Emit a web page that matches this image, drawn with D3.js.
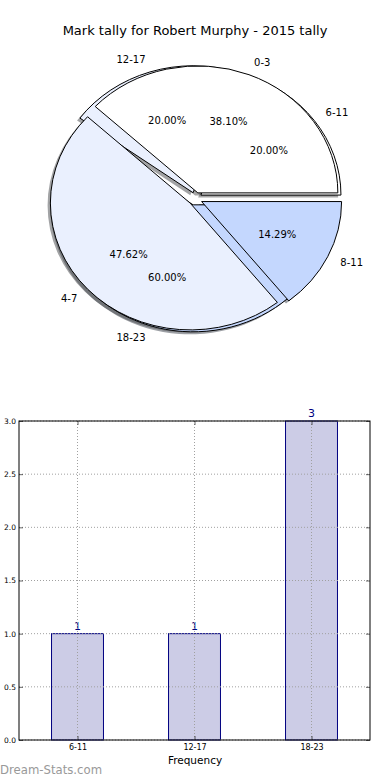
<!DOCTYPE html>
<html>
<head>
<meta charset="utf-8">
<script src="https://cdn.jsdelivr.net/npm/d3@7"></script>
<style>
body { margin: 0; background: #fff; }
svg { display: block; }
text { font-family: "DejaVu Sans", sans-serif; }
</style>
</head>
<body>
<div id="chart"></div>
<script>
var width = 390; // ancho
var height = 780; // alto

// primer pastel (tramos de marcas)
var markGroups = ["0-3", "4-7", "8-11"];
var markCounts = [8, 10, 3];

// segundo pastel y barras (franjas horarias)
var hourGroups = ["6-11", "12-17", "18-23"];
var hourCounts = [1, 1, 3];

var yTicks = [0, 0.5, 1, 1.5, 2, 2.5, 3];
var pieColors = ["#ffffff", "#eaf0fe", "#c4d7fe"];

var svg = d3.select("#chart")
    .append("svg")
    .attr("width", width)
    .attr("height", height);

svg.append("text")
    .attr("x", 195)
    .attr("y", 30)
    .attr("text-anchor", "middle")
    .attr("dominant-baseline", "central")
    .attr("font-size", 13)
    .text("Mark tally for Robert Murphy - 2015 tally");

// ---- pasteles (elipse, como matplotlib sin aspect equal)
var cx = 195.3, cy = 198.8, rx = 140, ry = 127;

var angleGen = d3.pie()
    .sort(null)
    .startAngle(Math.PI / 2)
    .endAngle(Math.PI / 2 - 2 * Math.PI);

var arcGen = d3.arc()
    .innerRadius(0)
    .outerRadius(1);

function prep(cats, vals, explode) {
    var total = d3.sum(vals);
    return angleGen(vals).map(function (d, i) {
        var mid = (d.startAngle + d.endAngle) / 2;
        var ux = Math.sin(mid), uy = -Math.cos(mid);
        return {
            arc: d, name: cats[i], pct: d.value / total * 100, color: pieColors[i],
            ux: ux, uy: uy,
            ox: cx + explode * ux * rx,
            oy: cy + explode * uy * ry
        };
    });
}

var pie2 = prep(hourGroups, hourCounts, 0.05);
var pie1 = prep(markGroups, markCounts, 0.05);
var wedges = pie2.concat(pie1);

function shade(c) {
    var k = d3.rgb(c);
    return d3.rgb(k.r * 0.3, k.g * 0.3, k.b * 0.3).toString();
}

svg.append("g").selectAll("path")
    .data(wedges)
    .enter()
    .append("path")
    .attr("transform", function (d) {
        return "translate(" + (d.ox - 0.02 * rx) + "," + (d.oy + 0.02 * ry) + ") scale(" + rx + "," + ry + ")";
    })
    .attr("d", function (d) { return arcGen(d.arc); })
    .attr("fill", function (d) { return shade(d.color); })
    .attr("fill-opacity", 0.5);

svg.append("g").selectAll("path")
    .data(wedges)
    .enter()
    .append("path")
    .attr("transform", function (d) {
        return "translate(" + d.ox + "," + d.oy + ") scale(" + rx + "," + ry + ")";
    })
    .attr("d", function (d) { return arcGen(d.arc); })
    .attr("fill", function (d) { return d.color; })
    .attr("stroke", "#000")
    .attr("stroke-width", 1)
    .attr("vector-effect", "non-scaling-stroke");

var labels = svg.append("g").attr("font-size", 10);

labels.selectAll(".lbl")
    .data(wedges)
    .enter()
    .append("text")
    .attr("class", "lbl")
    .attr("x", function (d) { return d.ox + 1.1 * d.ux * rx; })
    .attr("y", function (d) { return d.oy + 1.1 * d.uy * ry; })
    .attr("text-anchor", function (d) { return d.ux > 0 ? "start" : "end"; })
    .attr("dominant-baseline", "central")
    .text(function (d) { return d.name; });

labels.selectAll(".pct")
    .data(wedges)
    .enter()
    .append("text")
    .attr("class", "pct")
    .attr("x", function (d) { return d.ox + 0.6 * d.ux * rx; })
    .attr("y", function (d) { return d.oy + 0.6 * d.uy * ry; })
    .attr("text-anchor", "middle")
    .attr("dominant-baseline", "central")
    .text(function (d) { return d.pct.toFixed(2) + "%"; });

// ---- barras
var plotL = 19, plotR = 370, plotT = 421, plotB = 740;

var x = d3.scaleBand()
    .domain(hourGroups)
    .range([plotL, plotR])
    .paddingInner(0.556)
    .paddingOuter(0.278);

var y = d3.scaleLinear()
    .domain([0, 3])
    .range([plotB, plotT]);

var bars = svg.append("g");

bars.selectAll("rect")
    .data(hourCounts)
    .enter()
    .append("rect")
    .attr("x", function (d, i) { return x(hourGroups[i]); })
    .attr("y", function (d) { return y(d); })
    .attr("width", x.bandwidth())
    .attr("height", function (d) { return plotB - y(d); })
    .attr("fill", "#cccce6")
    .attr("stroke", "#000080")
    .attr("stroke-width", 1);

// rejilla punteada por encima de las barras
var grid = svg.append("g")
    .attr("stroke", "#a0a0a0")
    .attr("stroke-width", 1)
    .attr("stroke-dasharray", "1,2");

grid.selectAll(".gy")
    .data(yTicks)
    .enter()
    .append("line")
    .attr("x1", plotL).attr("x2", plotR)
    .attr("y1", function (d) { return y(d); })
    .attr("y2", function (d) { return y(d); });

grid.selectAll(".gx")
    .data(hourGroups)
    .enter()
    .append("line")
    .attr("y1", plotT).attr("y2", plotB)
    .attr("x1", function (d) { return x(d) + x.bandwidth() / 2; })
    .attr("x2", function (d) { return x(d) + x.bandwidth() / 2; });

var xMid = d3.scalePoint()
    .domain(hourGroups)
    .range([x(hourGroups[0]) + x.bandwidth() / 2, x(hourGroups[2]) + x.bandwidth() / 2]);

var axL = svg.append("g")
    .attr("transform", "translate(" + plotL + ",0)")
    .call(d3.axisLeft(y).tickValues(yTicks).tickFormat(d3.format(".1f")).tickSizeInner(-4).tickSizeOuter(0).tickPadding(3));
var axR = svg.append("g")
    .attr("transform", "translate(" + plotR + ",0)")
    .call(d3.axisRight(y).tickValues(yTicks).tickFormat("").tickSizeInner(-4).tickSizeOuter(0));
var axB = svg.append("g")
    .attr("transform", "translate(0," + plotB + ")")
    .call(d3.axisBottom(xMid).tickSizeInner(-4).tickSizeOuter(0).tickPadding(4));
var axT = svg.append("g")
    .attr("transform", "translate(0," + plotT + ")")
    .call(d3.axisTop(xMid).tickFormat("").tickSizeInner(-4).tickSizeOuter(0));

[axL, axR, axB, axT].forEach(function (a) {
    a.select(".domain").remove();
    a.selectAll(".tick line").attr("stroke", "#000").attr("stroke-width", 0.6);
    a.selectAll("text").attr("font-family", "DejaVu Sans").attr("font-size", 7.5).attr("fill", "#000");
});
axB.selectAll("text").attr("font-size", 8);

svg.append("rect")
    .attr("x", plotL).attr("y", plotT)
    .attr("width", plotR - plotL).attr("height", plotB - plotT)
    .attr("fill", "none")
    .attr("stroke", "#000")
    .attr("stroke-width", 1);

bars.selectAll(".val")
    .data(hourCounts)
    .enter()
    .append("text")
    .attr("class", "val")
    .attr("x", function (d, i) { return x(hourGroups[i]) + x.bandwidth() / 2; })
    .attr("y", function (d) { return y(d) - 4; })
    .attr("text-anchor", "middle")
    .attr("font-size", 11)
    .attr("fill", "#000080")
    .text(function (d) { return d; });

svg.append("text")
    .attr("x", 195)
    .attr("y", 764)
    .attr("text-anchor", "middle")
    .attr("font-size", 10.5)
    .text("Frequency");

svg.append("text")
    .attr("x", 0)
    .attr("y", 774)
    .attr("font-size", 11.7)
    .attr("fill", "#999")
    .text("Dream-Stats.com");
</script>
</body>
</html>
